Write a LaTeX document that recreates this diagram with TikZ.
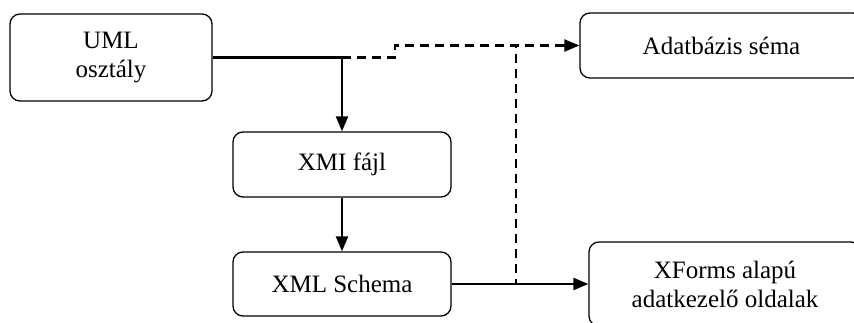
\documentclass[tikz,border=0pt]{standalone}
\usepackage{fontspec}
\setmainfont{Liberation Serif}
\usetikzlibrary{arrows.meta,positioning}
\tikzset{component/.style={draw, line width=1.3pt, rounded corners=10pt, align=center, font=\fontsize{25}{29}\selectfont, inner sep=0pt}}
\tikzstyle{arrow} = [line width=2.2pt, -{Triangle[length=15pt,width=12pt]}]
\tikzstyle{optional} = [line width=2.2pt, dash pattern=on 9pt off 6pt]

\begin{document}
\begin{tikzpicture}[x=1pt, y=-1pt]
	\clip (0,0) rectangle (854,323);
	% Nodes
	\node (uml) [component, minimum width=202pt, minimum height=87pt] at (111,57.5) {UML\\ osztály};
	\node (xmi) [component, minimum width=218pt, minimum height=65pt] at (342,164.5) {XMI fájl};
	\node (xml) [component, minimum width=218pt, minimum height=64pt] at (342,284) {XML Schema};
	\node (adat) [component, minimum width=283pt, minimum height=65pt] at (721.5,45.5) {Adatbázis séma};
	\node (xforms) [component, minimum width=272pt, minimum height=84pt] at (725,284) {XForms alapú\\ adatkezelő oldalak};

	\coordinate (split) at (xmi.north |- uml.east);
	\coordinate (stepup) at (395,57.5);
	\coordinate (tap) at (516,284);

	% Connectors
	\draw [arrow] (uml.east) -| (xmi.north);
	\draw [arrow] (xmi) -- (xml);
	\draw [arrow] (xml.east) -- (xforms.west);

	\draw [optional] (split) -- (stepup) |- ([xshift=-14pt]adat.west);
	\draw [optional] (xml.east) -- (tap) -- (tap |- adat.west);
	\draw [arrow] ([xshift=-16pt]adat.west) -- (adat.west);
\end{tikzpicture}
\end{document}
